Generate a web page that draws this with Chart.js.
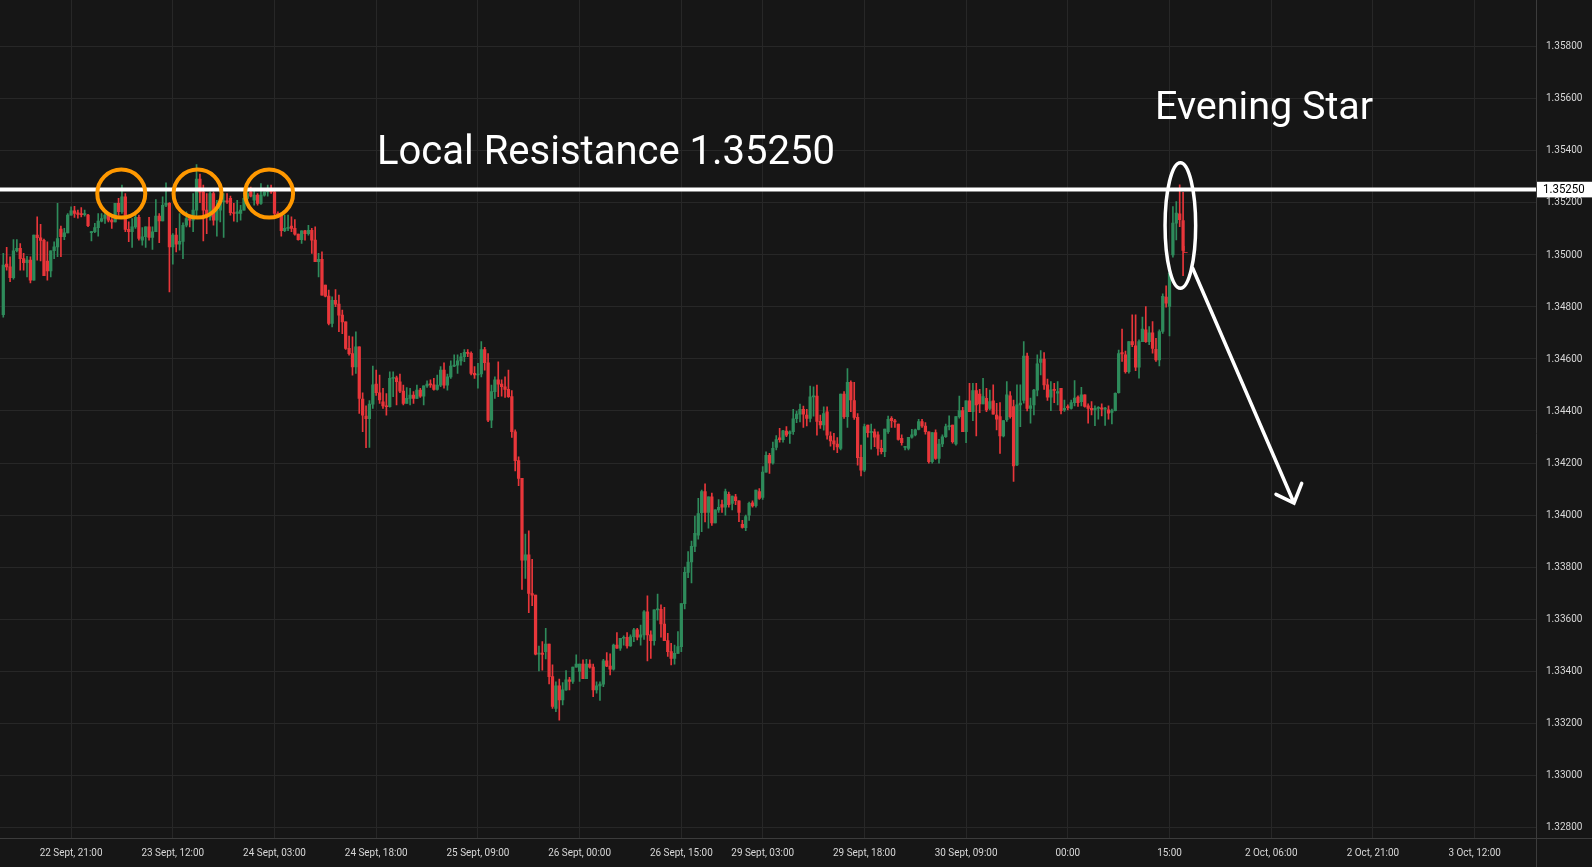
<!DOCTYPE html>
<html>
<head>
<meta charset="utf-8">
<title>GBPUSD 30m - Evening Star</title>
<script src="https://cdn.jsdelivr.net/npm/chart.js@4.4.1/dist/chart.umd.min.js"></script>
<style>
  html, body { margin: 0; padding: 0; background: #161616; overflow: hidden; }
  #wrap { width: 1592px; height: 867px; }
</style>
</head>
<body>
<div id="wrap"><canvas id="chart" width="1592" height="867"></canvas></div>
<script>
// 30 minute candles, 22 Sept 11:00 -> 1 Oct 17:00 (weekend removed)
const opens = [
  1.34770,1.34964,1.34953,1.34912,1.35015,1.35024,1.34985,1.34969,1.34979,1.34902,
  1.35075,1.35065,1.35055,1.34975,1.34938,1.35015,1.35030,1.35098,1.35069,1.35084,
  1.35152,1.35168,1.35161,1.35158,1.35154,1.35152,1.35085,1.35088,1.35104,1.35129,
  1.35139,1.35152,1.35133,1.35126,1.35197,1.35165,1.35222,1.35097,1.35088,1.35107,
  1.35143,1.35056,1.35069,1.35107,1.35066,1.35088,1.35148,1.35130,1.35190,1.35197,
  1.35030,1.35075,1.35040,1.35051,1.35113,1.35139,1.35133,1.35171,1.35290,1.35241,
  1.35171,1.35145,1.35235,1.35133,1.35171,1.35203,1.35206,1.35216,1.35161,1.35158,
  1.35158,1.35171,1.35216,1.35241,1.35209,1.35229,1.35197,1.35229,1.35241,1.35245,
  1.35241,1.35158,1.35152,1.35092,1.35101,1.35110,1.35101,1.35079,1.35058,1.35092,
  1.35081,1.35094,1.35056,1.34973,1.34982,1.34883,1.34841,1.34736,1.34825,1.34810,
  1.34768,1.34742,1.34640,1.34620,1.34569,1.34646,1.34446,1.34380,1.34370,1.34426,
  1.34503,1.34470,1.34435,1.34419,1.34416,1.34525,1.34527,1.34512,1.34476,1.34429,
  1.34448,1.34461,1.34448,1.34480,1.34457,1.34496,1.34503,1.34500,1.34483,1.34499,
  1.34557,1.34499,1.34531,1.34572,1.34576,1.34592,1.34608,1.34625,1.34621,1.34544,
  1.34538,1.34542,1.34636,1.34585,1.34365,1.34474,1.34519,1.34503,1.34493,1.34483,
  1.34455,1.34320,1.34209,1.34141,1.33827,1.33847,1.33699,1.33693,1.33466,1.33470,
  1.33476,1.33505,1.33380,1.33258,1.33344,1.33290,1.33329,1.33367,1.33361,1.33416,
  1.33400,1.33428,1.33372,1.33428,1.33416,1.33329,1.33344,1.33351,1.33440,1.33420,
  1.33408,1.33501,1.33489,1.33527,1.33531,1.33498,1.33533,1.33559,1.33531,1.33540,
  1.33629,1.33540,1.33518,1.33636,1.33638,1.33582,1.33518,1.33476,1.33450,1.33469,
  1.33495,1.33660,1.33780,1.33820,1.33880,1.33923,1.34009,1.34090,1.34010,1.34070,
  1.33970,1.34020,1.34040,1.34030,1.34080,1.34045,1.34070,1.34055,1.33965,1.33952,
  1.34000,1.34047,1.34036,1.34090,1.34068,1.34165,1.34230,1.34200,1.34260,1.34297,
  1.34290,1.34323,1.34313,1.34320,1.34370,1.34388,1.34406,1.34384,1.34371,1.34454,
  1.34457,1.34360,1.34346,1.34397,1.34303,1.34285,1.34273,1.34256,1.34465,1.34378,
  1.34510,1.34440,1.34375,1.34222,1.34173,1.34346,1.34317,1.34320,1.34308,1.34256,
  1.34244,1.34320,1.34372,1.34361,1.34350,1.34295,1.34260,1.34256,1.34299,1.34308,
  1.34329,1.34359,1.34342,1.34320,1.34205,1.34317,1.34218,1.34273,1.34301,1.34340,
  1.34346,1.34273,1.34378,1.34401,1.34320,1.34439,1.34397,1.34478,1.34465,1.34427,
  1.34448,1.34410,1.34439,1.34384,1.34378,1.34304,1.34366,1.34458,1.34417,1.34193,
  1.34423,1.34440,1.34611,1.34410,1.34423,1.34480,1.34586,1.34599,1.34500,1.34453,
  1.34483,1.34468,1.34487,1.34404,1.34417,1.34410,1.34432,1.34453,1.34436,1.34462,
  1.34420,1.34410,1.34404,1.34410,1.34412,1.34407,1.34404,1.34394,1.34401,1.34470,
  1.34624,1.34615,1.34551,1.34666,1.34650,1.34568,1.34666,1.34711,1.34666,1.34700,
  1.34637,1.34596,1.34705,1.34837,1.34801,1.34999,1.35121,1.35157,1.35131
];
const highs = [
  1.35005,1.35028,1.34992,1.35058,1.35058,1.35043,1.35005,1.34994,1.34992,1.35075,
  1.35145,1.35117,1.35060,1.35049,1.35015,1.35049,1.35197,1.35110,1.35101,1.35158,
  1.35184,1.35186,1.35171,1.35181,1.35171,1.35155,1.35090,1.35120,1.35158,1.35158,
  1.35161,1.35152,1.35139,1.35197,1.35216,1.35267,1.35235,1.35126,1.35139,1.35152,
  1.35152,1.35104,1.35107,1.35143,1.35107,1.35212,1.35158,1.35222,1.35276,1.35200,
  1.35081,1.35101,1.35158,1.35122,1.35165,1.35152,1.35235,1.35346,1.35310,1.35267,
  1.35235,1.35241,1.35241,1.35209,1.35209,1.35235,1.35235,1.35225,1.35197,1.35209,
  1.35190,1.35229,1.35254,1.35260,1.35248,1.35235,1.35273,1.35241,1.35267,1.35267,
  1.35245,1.35165,1.35155,1.35152,1.35152,1.35145,1.35135,1.35079,1.35092,1.35094,
  1.35113,1.35101,1.35107,1.35005,1.35011,1.34883,1.34864,1.34838,1.34866,1.34845,
  1.34787,1.34742,1.34687,1.34685,1.34704,1.34646,1.34470,1.34420,1.34440,1.34572,
  1.34557,1.34538,1.34487,1.34467,1.34550,1.34550,1.34534,1.34542,1.34499,1.34490,
  1.34487,1.34474,1.34499,1.34487,1.34496,1.34516,1.34519,1.34525,1.34538,1.34570,
  1.34585,1.34542,1.34592,1.34615,1.34615,1.34621,1.34636,1.34636,1.34627,1.34570,
  1.34583,1.34666,1.34644,1.34620,1.34499,1.34531,1.34589,1.34519,1.34531,1.34557,
  1.34478,1.34327,1.34224,1.34141,1.33927,1.33940,1.33830,1.33693,1.33497,1.33514,
  1.33565,1.33505,1.33425,1.33360,1.33370,1.33357,1.33403,1.33377,1.33416,1.33463,
  1.33428,1.33444,1.33446,1.33444,1.33428,1.33360,1.33360,1.33446,1.33472,1.33467,
  1.33505,1.33549,1.33527,1.33536,1.33549,1.33540,1.33565,1.33565,1.33578,1.33633,
  1.33690,1.33556,1.33636,1.33697,1.33655,1.33646,1.33546,1.33508,1.33501,1.33553,
  1.33660,1.33800,1.33860,1.33900,1.33996,1.34064,1.34096,1.34120,1.34070,1.34085,
  1.34020,1.34060,1.34058,1.34100,1.34088,1.34073,1.34080,1.34055,1.33980,1.34000,
  1.34050,1.34055,1.34096,1.34102,1.34186,1.34243,1.34237,1.34280,1.34305,1.34333,
  1.34326,1.34340,1.34324,1.34406,1.34399,1.34426,1.34419,1.34406,1.34495,1.34493,
  1.34499,1.34384,1.34416,1.34416,1.34320,1.34314,1.34298,1.34465,1.34474,1.34563,
  1.34516,1.34510,1.34390,1.34269,1.34350,1.34346,1.34350,1.34330,1.34320,1.34288,
  1.34330,1.34380,1.34378,1.34368,1.34350,1.34308,1.34263,1.34299,1.34329,1.34330,
  1.34368,1.34368,1.34355,1.34320,1.34317,1.34327,1.34291,1.34308,1.34350,1.34381,
  1.34346,1.34378,1.34457,1.34414,1.34439,1.34506,1.34506,1.34506,1.34483,1.34525,
  1.34487,1.34480,1.34500,1.34429,1.34432,1.34363,1.34513,1.34474,1.34442,1.34500,
  1.34500,1.34666,1.34622,1.34449,1.34483,1.34615,1.34632,1.34624,1.34522,1.34513,
  1.34506,1.34513,1.34487,1.34442,1.34423,1.34442,1.34517,1.34458,1.34491,1.34462,
  1.34427,1.34436,1.34420,1.34417,1.34427,1.34414,1.34420,1.34407,1.34470,1.34634,
  1.34714,1.34630,1.34666,1.34769,1.34769,1.34673,1.34760,1.34801,1.34724,1.34743,
  1.34679,1.34711,1.34850,1.34880,1.34929,1.35185,1.35204,1.35268,1.35239
];
const lows = [
  1.34760,1.34941,1.34896,1.34906,1.35011,1.34941,1.34941,1.34915,1.34892,1.34902,
  1.34979,1.34976,1.34919,1.34902,1.34915,1.34985,1.34992,1.34992,1.35058,1.35084,
  1.35152,1.35143,1.35140,1.35145,1.35148,1.35108,1.35053,1.35085,1.35071,1.35126,
  1.35120,1.35126,1.35101,1.35126,1.35152,1.35158,1.35088,1.35050,1.35028,1.35101,
  1.35056,1.35037,1.35028,1.35056,1.35020,1.35088,1.35046,1.35130,1.35184,1.34857,
  1.34964,1.35011,1.35017,1.34985,1.35107,1.35107,1.35088,1.35150,1.35200,1.35053,
  1.35081,1.35133,1.35113,1.35071,1.35126,1.35066,1.35197,1.35152,1.35129,1.35126,
  1.35133,1.35171,1.35212,1.35222,1.35190,1.35190,1.35193,1.35225,1.35225,1.35235,
  1.35152,1.35145,1.35071,1.35088,1.35092,1.35088,1.35075,1.35056,1.35043,1.35056,
  1.35075,1.35005,1.34973,1.34915,1.34845,1.34838,1.34730,1.34723,1.34800,1.34704,
  1.34697,1.34636,1.34614,1.34537,1.34544,1.34390,1.34320,1.34259,1.34260,1.34410,
  1.34460,1.34429,1.34410,1.34384,1.34414,1.34455,1.34423,1.34470,1.34423,1.34429,
  1.34423,1.34429,1.34448,1.34452,1.34423,1.34490,1.34490,1.34480,1.34480,1.34493,
  1.34487,1.34480,1.34525,1.34570,1.34544,1.34576,1.34589,1.34608,1.34538,1.34525,
  1.34487,1.34531,1.34557,1.34359,1.34336,1.34448,1.34455,1.34457,1.34452,1.34452,
  1.34298,1.34170,1.34113,1.33715,1.33757,1.33625,1.33652,1.33463,1.33402,1.33405,
  1.33448,1.33352,1.33258,1.33245,1.33213,1.33271,1.33327,1.33329,1.33354,1.33416,
  1.33361,1.33372,1.33372,1.33412,1.33303,1.33316,1.33288,1.33341,1.33418,1.33386,
  1.33405,1.33488,1.33480,1.33501,1.33489,1.33496,1.33514,1.33521,1.33501,1.33523,
  1.33440,1.33450,1.33501,1.33597,1.33531,1.33518,1.33457,1.33425,1.33428,1.33469,
  1.33476,1.33640,1.33760,1.33740,1.33860,1.33908,1.33936,1.33974,1.33950,1.33960,
  1.33970,1.34010,1.34010,1.34000,1.34030,1.34020,1.34040,1.33975,1.33950,1.33940,
  1.33980,1.34030,1.34030,1.34060,1.34060,1.34165,1.34160,1.34196,1.34250,1.34280,
  1.34280,1.34301,1.34275,1.34310,1.34355,1.34358,1.34337,1.34342,1.34358,1.34380,
  1.34307,1.34333,1.34326,1.34292,1.34265,1.34250,1.34240,1.34250,1.34371,1.34337,
  1.34397,1.34367,1.34192,1.34150,1.34167,1.34299,1.34253,1.34263,1.34230,1.34235,
  1.34224,1.34314,1.34337,1.34337,1.34288,1.34269,1.34250,1.34250,1.34295,1.34304,
  1.34327,1.34337,1.34311,1.34199,1.34199,1.34214,1.34199,1.34263,1.34298,1.34327,
  1.34276,1.34269,1.34372,1.34320,1.34278,1.34397,1.34363,1.34304,1.34393,1.34427,
  1.34397,1.34404,1.34388,1.34327,1.34237,1.34300,1.34360,1.34372,1.34129,1.34190,
  1.34340,1.34430,1.34400,1.34353,1.34385,1.34458,1.34538,1.34483,1.34440,1.34401,
  1.34432,1.34423,1.34389,1.34398,1.34404,1.34407,1.34419,1.34417,1.34419,1.34414,
  1.34353,1.34385,1.34343,1.34368,1.34381,1.34344,1.34368,1.34350,1.34400,1.34468,
  1.34590,1.34545,1.34545,1.34647,1.34555,1.34526,1.34666,1.34663,1.34654,1.34622,
  1.34590,1.34573,1.34698,1.34798,1.34688,1.34990,1.35057,1.35108,1.34919
];
const closes = [
  1.34960,1.34953,1.34912,1.35015,1.35024,1.34985,1.34969,1.34979,1.34902,1.35075,
  1.35065,1.35055,1.34919,1.34938,1.35015,1.35030,1.35062,1.35069,1.35084,1.35152,
  1.35168,1.35158,1.35155,1.35154,1.35158,1.35111,1.35088,1.35104,1.35129,1.35139,
  1.35152,1.35133,1.35126,1.35197,1.35165,1.35222,1.35097,1.35088,1.35107,1.35143,
  1.35062,1.35069,1.35107,1.35066,1.35088,1.35148,1.35130,1.35190,1.35197,1.35030,
  1.35075,1.35040,1.35051,1.35113,1.35139,1.35133,1.35171,1.35290,1.35240,1.35171,
  1.35145,1.35235,1.35133,1.35171,1.35203,1.35206,1.35203,1.35161,1.35158,1.35165,
  1.35171,1.35216,1.35235,1.35225,1.35229,1.35197,1.35229,1.35241,1.35245,1.35241,
  1.35158,1.35152,1.35092,1.35101,1.35104,1.35101,1.35079,1.35058,1.35092,1.35081,
  1.35094,1.35056,1.34973,1.34982,1.34845,1.34841,1.34736,1.34825,1.34810,1.34768,
  1.34742,1.34640,1.34620,1.34569,1.34646,1.34448,1.34384,1.34370,1.34426,1.34500,
  1.34470,1.34442,1.34419,1.34416,1.34525,1.34527,1.34512,1.34476,1.34429,1.34448,
  1.34461,1.34448,1.34480,1.34457,1.34496,1.34503,1.34500,1.34483,1.34499,1.34557,
  1.34499,1.34531,1.34572,1.34576,1.34592,1.34608,1.34625,1.34621,1.34544,1.34538,
  1.34542,1.34636,1.34585,1.34365,1.34474,1.34519,1.34503,1.34493,1.34483,1.34455,
  1.34320,1.34209,1.34141,1.33827,1.33847,1.33699,1.33693,1.33466,1.33470,1.33465,
  1.33505,1.33380,1.33265,1.33344,1.33290,1.33329,1.33367,1.33361,1.33416,1.33428,
  1.33428,1.33372,1.33428,1.33416,1.33329,1.33344,1.33351,1.33440,1.33420,1.33408,
  1.33501,1.33489,1.33527,1.33531,1.33498,1.33533,1.33559,1.33531,1.33540,1.33629,
  1.33540,1.33518,1.33636,1.33638,1.33582,1.33518,1.33476,1.33450,1.33469,1.33495,
  1.33660,1.33780,1.33820,1.33880,1.33930,1.34006,1.34090,1.34010,1.34070,1.33970,
  1.34020,1.34030,1.34030,1.34090,1.34040,1.34073,1.34055,1.34010,1.33953,1.33994,
  1.34045,1.34035,1.34096,1.34064,1.34165,1.34230,1.34200,1.34256,1.34290,1.34290,
  1.34324,1.34307,1.34320,1.34370,1.34388,1.34406,1.34388,1.34371,1.34454,1.34457,
  1.34360,1.34346,1.34390,1.34307,1.34285,1.34273,1.34262,1.34465,1.34378,1.34510,
  1.34442,1.34375,1.34221,1.34173,1.34340,1.34317,1.34322,1.34299,1.34256,1.34244,
  1.34330,1.34368,1.34363,1.34358,1.34291,1.34278,1.34263,1.34299,1.34308,1.34327,
  1.34359,1.34342,1.34320,1.34205,1.34317,1.34218,1.34273,1.34301,1.34340,1.34342,
  1.34282,1.34378,1.34401,1.34320,1.34439,1.34397,1.34478,1.34423,1.34427,1.34455,
  1.34404,1.34436,1.34388,1.34368,1.34304,1.34363,1.34462,1.34378,1.34189,1.34423,
  1.34430,1.34611,1.34410,1.34420,1.34480,1.34581,1.34599,1.34500,1.34453,1.34481,
  1.34479,1.34474,1.34401,1.34410,1.34413,1.34432,1.34449,1.34432,1.34462,1.34417,
  1.34410,1.34404,1.34410,1.34412,1.34407,1.34409,1.34391,1.34401,1.34468,1.34620,
  1.34619,1.34551,1.34666,1.34654,1.34568,1.34666,1.34714,1.34666,1.34700,1.34640,
  1.34596,1.34705,1.34840,1.34814,1.34929,1.35121,1.35160,1.35134,1.35016
];

// time axis: bar index of each label (30 min bars, weekend gap after index 211)
const tickIndex = [20, 50, 80, 110, 140, 170, 200, 224, 254, 284, 314, 344, 374, 404, 434];
const tickLabels = ['22 Sept, 21:00', '23 Sept, 12:00', '24 Sept, 03:00', '24 Sept, 18:00',
  '25 Sept, 09:00', '26 Sept, 00:00', '26 Sept, 15:00', '29 Sept, 03:00', '29 Sept, 18:00',
  '30 Sept, 09:00', '00:00', '15:00', '2 Oct, 06:00', '2 Oct, 21:00', '3 Oct, 12:00'];
const priceTicks = [1.328, 1.330, 1.332, 1.334, 1.336, 1.338, 1.340, 1.342, 1.344,
  1.346, 1.348, 1.350, 1.352, 1.354, 1.356, 1.358];
const resistance = 1.3525;
const touches = [34.8, 57.3, 78.4]; // bars where price tested the resistance

const BG = '#161616';
const GRID = '#272727';
const AXIS_LINE = '#3c3c3c';
const TEXT = '#d8d8d8';
const UP = '#2e8b5b';
const DOWN = '#e8363a';

const candleColor = i => closes[i] >= opens[i] ? UP : DOWN;

const wicks = highs.map((h, i) => ({ x: i, y: [lows[i], h] }));
const bodies = opens.map((o, i) => ({ x: i, y: [o, closes[i]] }));

// draws text squeezed horizontally (the platform's axis font is a condensed one)
function narrowText(ctx, text, x, y, size, squeeze, align) {
  ctx.save();
  ctx.font = size + 'px Roboto';
  ctx.textBaseline = 'middle';
  ctx.textAlign = align;
  ctx.translate(x, y);
  ctx.scale(squeeze, 1);
  ctx.fillText(text, 0, 0);
  ctx.restore();
}

const background = {
  id: 'background',
  beforeDraw(chart) {
    const ctx = chart.ctx;
    ctx.save();
    ctx.fillStyle = BG;
    ctx.fillRect(0, 0, chart.width, chart.height);
    ctx.restore();
  }
};

const annotations = {
  id: 'annotations',
  afterDatasetsDraw(chart) {
    const { ctx, chartArea: a } = chart;
    const x = chart.scales.x, y = chart.scales.y;
    const yr = y.getPixelForValue(resistance);
    ctx.save();

    // resistance line
    ctx.strokeStyle = '#ffffff';
    ctx.lineWidth = 4;
    ctx.beginPath();
    ctx.moveTo(a.left, yr);
    ctx.lineTo(a.right, yr);
    ctx.stroke();

    // orange circles
    ctx.strokeStyle = '#ff9800';
    ctx.lineWidth = 4;
    touches.forEach(i => {
      ctx.beginPath();
      ctx.arc(x.getPixelForValue(i), yr + 4, 24, 0, Math.PI * 2);
      ctx.stroke();
    });

    // evening star ellipse + arrow
    const ex = x.getPixelForValue(347.2), ey = y.getPixelForValue(1.35112);
    ctx.strokeStyle = '#ffffff';
    ctx.lineWidth = 3.5;
    ctx.beginPath();
    ctx.ellipse(ex, ey, 15.3, 62.8, 0, 0, Math.PI * 2);
    ctx.stroke();

    ctx.lineCap = 'round';
    ctx.beginPath();
    ctx.moveTo(1192.7, 268.3);
    ctx.lineTo(1294, 503);
    ctx.moveTo(1276, 494.3);
    ctx.lineTo(1294, 503);
    ctx.lineTo(1301.7, 483.3);
    ctx.stroke();

    // texts
    ctx.fillStyle = '#ffffff';
    ctx.textBaseline = 'alphabetic';
    ctx.font = '40px Roboto';
    ctx.fillText('Local Resistance 1.35250', 377, 164);
    ctx.font = '39.5px Roboto';
    ctx.fillText('Evening Star', 1155, 119.3);

    ctx.fillStyle = DOWN;
    ctx.font = '9px Roboto';
    ctx.fillText('L', 1183, 253);
    ctx.restore();
  },
  afterDraw(chart) {
    const { ctx, chartArea: a } = chart;
    const x = chart.scales.x, y = chart.scales.y;
    const yr = y.getPixelForValue(resistance);
    ctx.save();
    ctx.strokeStyle = AXIS_LINE;
    ctx.lineWidth = 1;
    ctx.beginPath();
    ctx.moveTo(Math.round(a.right) + 0.5, 0);
    ctx.lineTo(Math.round(a.right) + 0.5, chart.height);
    ctx.moveTo(0, Math.round(a.bottom) + 0.5);
    ctx.lineTo(chart.width, Math.round(a.bottom) + 0.5);
    ctx.stroke();

    // axis labels
    ctx.fillStyle = TEXT;
    y.ticks.forEach(t => narrowText(ctx, t.value.toFixed(5), a.right + 10, y.getPixelForValue(t.value), 11.5, 0.87, 'left'));
    x.ticks.forEach((t, i) => narrowText(ctx, tickLabels[i], x.getPixelForValue(t.value), a.bottom + 16, 10.8, 0.92, 'center'));

    // price label of the resistance on the axis
    ctx.fillStyle = '#ffffff';
    ctx.fillRect(a.right + 1, yr - 7.8, chart.width - a.right - 1, 15.6);
    ctx.fillStyle = '#000000';
    narrowText(ctx, resistance.toFixed(5), a.right + 7, yr + 0.5, 13.2, 0.87, 'left');
    ctx.restore();
  }
};

new Chart(document.getElementById('chart'), {
  type: 'bar',
  data: {
    datasets: [
      {
        label: 'wick',
        data: wicks,
        backgroundColor: ctx => candleColor(ctx.dataIndex),
        barThickness: 1,
        grouped: false,
        order: 2
      },
      {
        label: 'body',
        data: bodies,
        backgroundColor: ctx => candleColor(ctx.dataIndex),
        barThickness: 2.6,
        minBarLength: 1,
        grouped: false,
        order: 1
      }
    ]
  },
  options: {
    responsive: false,
    animation: false,
    devicePixelRatio: 1,
    layout: { padding: 0 },
    plugins: {
      legend: { display: false },
      tooltip: { enabled: false }
    },
    scales: {
      x: {
        type: 'linear',
        min: -0.97,
        max: 452.1,
        offset: false,
        afterBuildTicks: s => { s.ticks = tickIndex.map(v => ({ value: v })); },
        afterFit: s => { s.height = 29.5; s.paddingLeft = 0; s.paddingRight = 0; },
        grid: { offset: false, color: GRID, drawTicks: false },
        border: { display: false },
        ticks: { display: false, autoSkip: false, maxRotation: 0 }
      },
      y: {
        position: 'right',
        min: 1.32762,
        max: 1.35978,
        afterBuildTicks: s => { s.ticks = priceTicks.map(v => ({ value: v })); },
        afterFit: s => { s.width = 56; s.paddingTop = 0; s.paddingBottom = 0; },
        grid: { color: GRID, drawTicks: false },
        border: { display: false },
        ticks: { display: false }
      }
    }
  },
  plugins: [background, annotations]
});
</script>
</body>
</html>
